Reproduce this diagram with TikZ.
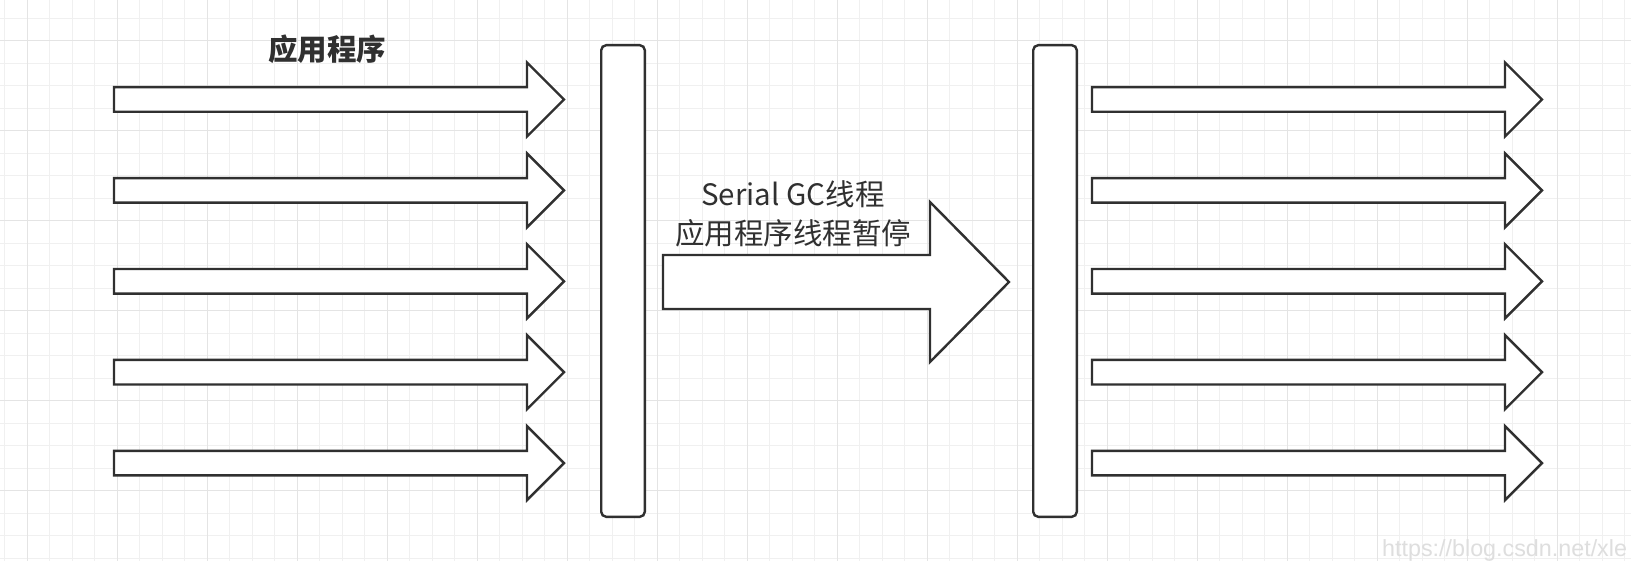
\documentclass[tikz,border=0pt]{standalone}
\usepackage{fontspec}
\newfontfamily\cjk{Noto Sans CJK SC}
\newfontfamily\wmfont{Liberation Sans}
\definecolor{ink}{RGB}{48,48,48}
\definecolor{gminor}{RGB}{240,240,240}
\definecolor{gmajor}{RGB}{228,228,228}
\definecolor{wmgray}{RGB}{222,222,222}
\tikzset{
  arr/.style={draw=ink, line width=2.4pt, fill=white, line join=miter},
  bar/.style={draw=ink, line width=2.4pt, fill=white, rounded corners=5pt, minimum width=43.6pt, minimum height=471.6pt, inner sep=0pt},
  lbl/.style={font=\cjk\fontsize{29.5}{39.5}\selectfont, text=ink, align=center, inner sep=0pt},
}
\newcommand\blkarrow[6]{% x1, xhead, xtip, ycenter, half shaft, half head
  \draw[arr] (#1,{#4-#5}) -- (#2,{#4-#5}) -- (#2,{#4-#6}) -- (#3,#4) -- (#2,{#4+#6}) -- (#2,{#4+#5}) -- (#1,{#4+#5}) -- cycle;}
\begin{document}
\begin{tikzpicture}[x=1pt,y=-1pt]
  \useasboundingbox (0,0) rectangle (1631,561);
  \fill[white] (0,0) rectangle (1631,561);
  \begin{scope}
    \clip (0,0) rectangle (1631,561);
    % grid
    \foreach \i in {0,...,72} \draw[gminor, line width=1pt] ({4.5+22.5*\i},0) -- ({4.5+22.5*\i},561);
    \foreach \i in {0,...,25} \draw[gminor, line width=1pt] (0,{-4.3+22.5*\i}) -- (1631,{-4.3+22.5*\i});
    \foreach \i in {0,...,18} \draw[gmajor, line width=1pt] ({27+90*\i},0) -- ({27+90*\i},561);
    \foreach \i in {0,...,6} \draw[gmajor, line width=1pt] (0,{40.7+90*\i}) -- (1631,{40.7+90*\i});
  \end{scope}
  % watermark
  \node[anchor=base west, inner sep=0pt, text=wmgray, font=\wmfont\fontsize{23.3}{23.3}\selectfont] (wm) at (1382,556) {https://blog.csdn.net/xle};
  % left application-thread arrows
  \foreach \y in {99.5,190.4,281.3,372.2,463.1} \blkarrow{114}{527}{564}{\y}{12.3}{37};
  % bars
  \node[bar] (lbar) at (623,281) {};
  \node[bar] (rbar) at (1055,281) {};
  % big GC arrow
  \blkarrow{663}{930}{1009}{282}{27}{80}
  % right arrows
  \foreach \y in {99.5,190.4,281.3,372.2,463.1} \blkarrow{1092}{1505}{1542}{\y}{12.3}{37};
  % labels
  \node[lbl, font=\cjk\bfseries\fontsize{29.5}{39.5}\selectfont] (app) at (327,49) {应用程序};
  \node[lbl] (gc) at (793,214) {Serial GC线程\\应用程序线程暂停};
\end{tikzpicture}
\end{document}
